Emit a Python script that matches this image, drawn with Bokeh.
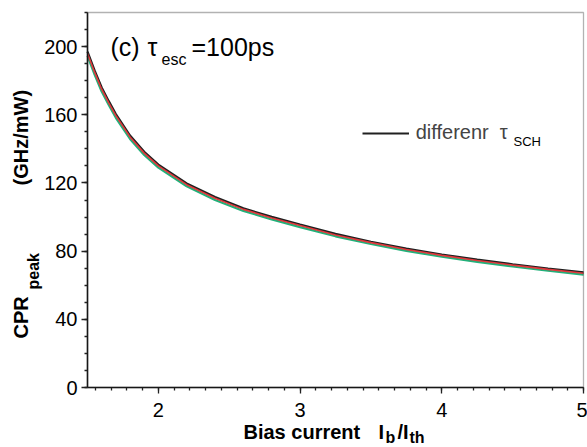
import math
from bokeh.plotting import figure
from bokeh.models import (Label, Range1d, SingleIntervalTicker, Legend, LegendItem,
                          ColumnDataSource, BoxAnnotation)
from bokeh.embed import file_html
from bokeh.resources import INLINE

# ---- data ----
bias = [1.5, 1.55, 1.6, 1.65, 1.7, 1.8, 1.9, 2.0, 2.2, 2.4, 2.6, 2.8, 3.0, 3.25, 3.5, 3.75, 4.0, 4.25, 4.5, 4.75, 5.0]
cpr_black = [197.0, 186.0, 176.0, 168.0, 160.4, 147.8, 138.3, 130.8, 119.7, 111.7, 105.1, 100.1, 95.6, 90.1, 85.5, 81.5, 78.0, 75.0, 72.3, 69.8, 67.5]
cpr_red = [196.0, 185.0, 175.0, 167.0, 159.5, 147.0, 137.5, 130.0, 119.0, 111.0, 104.5, 99.5, 95.0, 89.5, 85.0, 81.0, 77.5, 74.5, 71.8, 69.3, 67.0]
cpr_green = [194.5, 183.6, 173.6, 165.8, 158.2, 145.8, 136.4, 129.0, 118.0, 110.0, 103.6, 98.6, 94.1, 88.7, 84.2, 80.2, 76.7, 73.7, 71.0, 68.5, 66.2]
x_start, x_end = 1.5, 5.0
y_start, y_end = 0, 220

FONT = "Liberation Sans"
NB = "\u00a0"

# ---- layout (pixels) ----
W, H = 587, 447
F_LEFT, F_RIGHT, F_TOP, F_BOTTOM = 87, 583, 12, 387   # plot-box edges in canvas pixels
xppu = (F_RIGHT - F_LEFT) / (x_end - x_start)
yppu = (F_BOTTOM - F_TOP) / (y_end - y_start)
x_lo = x_start - F_LEFT / xppu
x_hi = x_end + (W - F_RIGHT) / xppu
y_lo = y_start - (H - F_BOTTOM) / yppu
y_hi = y_end + F_TOP / yppu

p = figure(width=W, height=H,
           x_range=Range1d(x_lo, x_hi), y_range=Range1d(y_lo, y_hi),
           output_backend="svg", toolbar_location=None, min_border=0,
           min_border_left=0, min_border_right=0, min_border_top=0, min_border_bottom=0)

p.grid.visible = False
p.background_fill_color = "white"
p.border_fill_color = "white"
p.outline_line_color = None

src = ColumnDataSource(dict(x=bias, k=cpr_black, r=cpr_red, g=cpr_green))
r_black = p.line("x", "k", source=src, line_color="#202020", line_width=2.2)
r_green = p.line("x", "g", source=src, line_color="#22b07a", line_width=2.2)
r_red = p.line("x", "r", source=src, line_color="#e0383c", line_width=1.6)

# plot box (top / right edges)
p.add_layout(BoxAnnotation(left=x_start, right=x_end, bottom=y_start, top=y_end,
                           fill_alpha=0, line_color="black", line_width=1.3))

# axes drawn at fixed locations on the plot box
p.xaxis.fixed_location = y_start
p.yaxis.fixed_location = x_start
p.xaxis.bounds = (x_start, x_end)
p.yaxis.bounds = (y_start, y_end)
p.xaxis.ticker = SingleIntervalTicker(interval=1, num_minor_ticks=9)
p.yaxis.ticker = SingleIntervalTicker(interval=40, num_minor_ticks=4)
for ax in (p.xaxis[0], p.yaxis[0]):
    ax.axis_line_width = 1.6
    ax.axis_line_color = "#222222"
    ax.major_tick_line_color = "#222222"
    ax.minor_tick_line_color = "#222222"
    ax.major_tick_line_width = 1.3
    ax.minor_tick_line_width = 1.3
    ax.major_tick_in = 0
    ax.major_tick_out = 6
    ax.minor_tick_in = 0
    ax.minor_tick_out = 3
    ax.major_label_text_font = FONT
    ax.major_label_text_font_size = "20px"
    ax.major_label_text_color = "black"
p.xaxis.major_label_standoff = 9
p.yaxis.major_label_standoff = 4

# legend
legend = Legend(items=[LegendItem(label="differenr" + NB + NB + "\u03c4", renderers=[r_black])],
                location=(361.7, 303), padding=0, margin=0, spacing=0,
                glyph_width=47, glyph_height=20, label_height=20, label_standoff=7,
                label_text_font=FONT, label_text_font_size="20px",
                border_line_color=None, background_fill_alpha=0)
p.add_layout(legend)

def lab(text, px, py, size, bold=False):
    # px, py: canvas pixels from the top-left corner (py = vertical middle of the text)
    p.add_layout(Label(x=px, y=H - py, x_units="screen", y_units="screen", text=text,
                       text_font=FONT, text_font_size=size,
                       text_font_style="bold" if bold else "normal",
                       text_baseline="middle", text_align="left", text_color="black"))

# legend subscript
lab("SCH", 513, 140.5, "13px")

# title inside plot
lab("(c)", 110, 46, "25px")
lab("\u03c4", 147, 46, "25px")
lab("esc", 161, 59, "16px")
lab("=100ps", 191, 46, "25px")

# x axis label
lab("Bias current", 243, 431, "20px", bold=True)
lab("I", 378, 431, "20px", bold=True)
lab("b", 385, 437, "16px", bold=True)
lab("/I", 397, 431, "20px", bold=True)
lab("th", 409, 437, "16px", bold=True)

# y axis label (rotated, reads bottom to top)
def vlab(text, px_mid, py_start, size):
    p.add_layout(Label(x=px_mid, y=H - py_start, x_units="screen", y_units="screen", text=text,
                       text_font=FONT, text_font_size=size, text_font_style="bold",
                       text_baseline="middle", text_align="left",
                       angle=math.pi / 2, text_color="black"))

vlab("CPR", 20, 338, "20px")
vlab("peak", 33, 289, "16px")
vlab("(GHz/mW)", 20, 185, "20px")

open("out.html", "w").write(file_html(p, INLINE))
